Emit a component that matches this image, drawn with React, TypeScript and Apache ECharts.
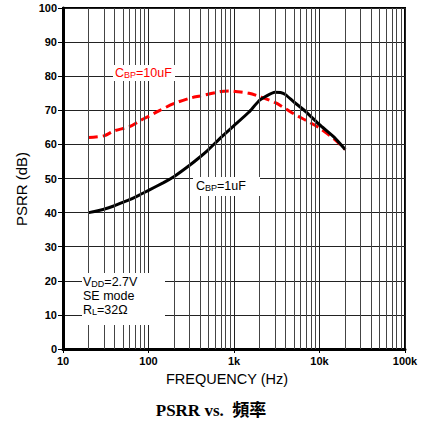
import React, { useEffect, useRef } from "react";
import * as echarts from "echarts";

const freq1uF = [20, 30, 40, 50, 60, 80, 100, 150, 200, 300, 400, 500, 700, 1000, 1500, 2000, 3000, 3500, 4000, 5000, 7000, 10000, 15000, 20000];
const psrr1uF = [40, 41, 42, 43, 43.8, 45.3, 46.5, 48.8, 50.6, 53.8, 56.3, 58.4, 62, 65.5, 69.5, 73, 75.3, 75.2, 74.6, 72.5, 69.5, 65.8, 62, 58.5];

const freq10uF = [20, 30, 40, 60, 80, 100, 136, 200, 300, 400, 700, 900, 1000, 1500, 2000, 3000, 4000, 5000, 7000, 10000, 15000, 20000];
const psrr10uF = [62, 62.5, 64, 65.2, 67, 68.2, 70, 72, 73.5, 74.2, 75.5, 75.7, 75.6, 75, 74, 72.3, 70.5, 69, 67, 64.8, 61.5, 58.5];

const minorFreqs = [20, 30, 40, 50, 60, 70, 80, 90, 200, 300, 400, 500, 600, 700, 800, 900, 2000, 3000, 4000, 5000, 6000, 7000, 8000, 9000, 20000, 30000, 40000, 50000, 60000, 70000, 80000, 90000];

const xMin = 10;
const xMax = 100000;
const yMin = 0;
const yMax = 100;
const yStep = 10;

const SANS = "Arial, 'Liberation Sans', Helvetica, sans-serif";

function textEl(x: number, y: number, text: string, extra: any = {}) {
  return {
    type: "text",
    x,
    y,
    z: 100,
    style: {
      text,
      fill: "#000",
      fontFamily: SANS,
      fontSize: 12.5,
      align: "left",
      verticalAlign: "middle",
      textAlign: "left",
      textVerticalAlign: "middle",
      ...extra,
    },
  };
}

function richStyle(color: string) {
  return {
    n: { fontSize: 12.5, fontFamily: SANS, fill: color, color },
    s: { fontSize: 9, fontFamily: SANS, fill: color, color, verticalAlign: "bottom", padding: [3, 0, 0, 0] },
  };
}

function richText(x: number, y: number, text: string, color: string) {
  const base = textEl(x, y, "");
  return { ...base, style: { ...base.style, text, fill: color, rich: richStyle(color) } };
}

export default function App() {
  const ref = useRef<HTMLDivElement>(null);
  useEffect(() => {
    if (!ref.current) return;
    const chart = echarts.init(ref.current, null, { renderer: "svg" });
    const option: any = {
      animation: false,
      backgroundColor: "#fff",
      grid: {
        left: 63,
        right: 23,
        top: 8,
        bottom: 80,
        show: true,
        borderColor: "#000",
        borderWidth: 2,
        backgroundColor: "transparent",
      },
      xAxis: {
        type: "log",
        logBase: 10,
        min: xMin,
        max: xMax,
        axisLine: { show: true, onZero: false, lineStyle: { color: "#000", width: 3 } },
        axisTick: { show: true, length: 4, lineStyle: { color: "#000", width: 1 } },
        axisLabel: {
          color: "#000",
          fontWeight: "bold",
          fontSize: 11,
          fontFamily: SANS,
          margin: 6,
          formatter: (v: number) => (v >= 1000 ? v / 1000 + "k" : String(v)),
        },
        splitLine: { show: true, lineStyle: { color: "#222", width: 1 } },
        minorTick: { show: false },
      },
      yAxis: {
        type: "value",
        min: yMin,
        max: yMax,
        interval: yStep,
        axisLine: { show: true, lineStyle: { color: "#000", width: 3 } },
        axisTick: { show: true, length: 5, lineStyle: { color: "#000", width: 1 } },
        axisLabel: {
          color: "#000",
          fontWeight: "bold",
          fontSize: 11,
          fontFamily: SANS,
          margin: 6,
        },
        splitLine: { show: true, lineStyle: { color: "#222", width: 1 } },
      },
      series: [
        {
          type: "line",
          z: 1,
          silent: true,
          symbol: "none",
          data: [[xMin, null]],
          markLine: {
            silent: true,
            symbol: ["none", "none"],
            label: { show: false },
            emphasis: { disabled: true },
            lineStyle: { color: "#444", width: 1, type: "solid" },
            data: minorFreqs.map((v) => ({ xAxis: v })),
          },
        },
        {
          name: "CBP=10uF",
          type: "line",
          z: 3,
          symbol: "none",
          smooth: 0.3,
          lineStyle: { color: "#ff0000", width: 3, type: [9, 5] },
          data: freq10uF.map((f, i) => [f, psrr10uF[i]]),
        },
        {
          name: "CBP=1uF",
          type: "line",
          z: 4,
          symbol: "none",
          smooth: 0.15,
          lineStyle: { color: "#000", width: 3 },
          data: freq1uF.map((f, i) => [f, psrr1uF[i]]),
        },
      ],
      graphic: [
        { type: "rect", z: 90, shape: { x: 113, y: 65, width: 62, height: 16 }, style: { fill: "#fff" } },
        richText(115, 73, "{n|C}{s|BP}{n|=10uF}", "#ff0000"),
        { type: "rect", z: 90, shape: { x: 193, y: 177, width: 67, height: 19 }, style: { fill: "#fff" } },
        richText(196, 186, "{n|C}{s|BP}{n|=1uF}", "#000"),
        { type: "rect", z: 90, shape: { x: 82, y: 273, width: 83, height: 52 }, style: { fill: "#fff" } },
        richText(83, 282, "{n|V}{s|DD}{n|=2.7V}", "#000"),
        textEl(83, 296, "SE mode"),
        richText(83, 310, "{n|R}{s|L}{n|=32Ω}", "#000"),
        textEl(227, 379, "FREQUENCY (Hz)", { fontSize: 14.5, align: "center", textAlign: "center" }),
        {
          type: "text",
          x: 21,
          y: 189,
          rotation: Math.PI / 2,
          z: 100,
          style: {
            text: "PSRR (dB)",
            fill: "#000",
            fontFamily: SANS,
            fontSize: 15,
            align: "center",
            verticalAlign: "middle",
            textAlign: "center",
            textVerticalAlign: "middle",
          },
        },
        textEl(211, 410, "PSRR vs.  頻率", {
          fontSize: 17,
          fontWeight: "bold",
          fontFamily: "'Liberation Serif', 'Times New Roman', 'Noto Sans CJK TC', serif",
          align: "center",
          textAlign: "center",
        }),
      ],
    };
    chart.setOption(option);
    return () => chart.dispose();
  }, []);
  return (
    <div
      ref={ref}
      style={{ position: "fixed", left: 0, top: 0, width: 428, height: 429, background: "#fff" }}
    />
  );
}
